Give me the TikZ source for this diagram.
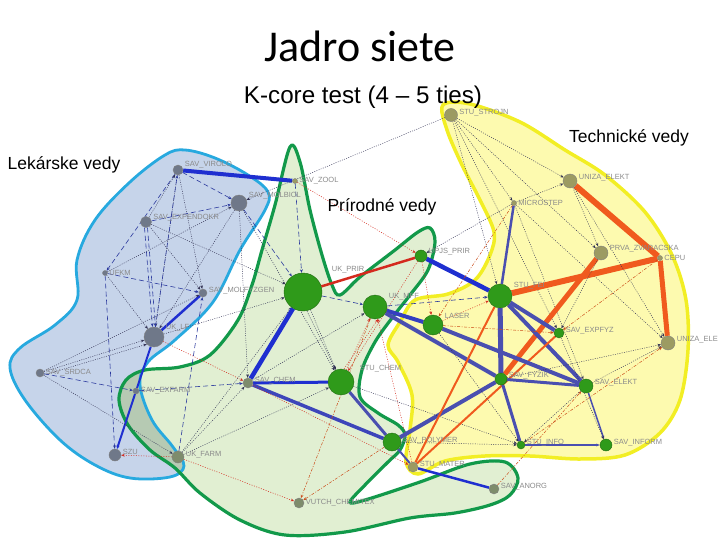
\documentclass[tikz,border=0pt]{standalone}
\usepackage{fontspec}
\setmainfont{Liberation Sans}
\newfontfamily\titlefont{Carlito}
\usetikzlibrary{arrows.meta}
\pgfdeclarelayer{hulls}
\pgfdeclarelayer{edges}
\pgfsetlayers{hulls,edges,main}
\definecolor{hullblue}{HTML}{C6D4EA}
\definecolor{strokeblue}{HTML}{27A9DF}
\definecolor{hullgreen}{HTML}{D9EBC7}
\definecolor{strokegreen}{HTML}{12994A}
\definecolor{hullyellow}{HTML}{FDFAA6}
\definecolor{strokeyellow}{HTML}{F2EE24}
\definecolor{overlapbg}{HTML}{B6CAB3}
\definecolor{ngray}{HTML}{6F7889}
\definecolor{ngreen}{HTML}{2F9A1A}
\definecolor{nolive}{HTML}{9C9B62}
\definecolor{ngg}{HTML}{7E8C6C}
\definecolor{ebl}{HTML}{2C3A9E}
\definecolor{ethick}{HTML}{1F2FD0}
\definecolor{epur}{HTML}{4A4FB0}
\definecolor{eor}{HTML}{F05A1E}
\definecolor{ered}{HTML}{D42A1E}
\definecolor{edot}{HTML}{333355}
\definecolor{lblc}{HTML}{8A8A8A}
\newcommand\bluehull{plot[smooth cycle, tension=0.6] coordinates {(185,150) (215,158) (248,175) (268,192) (265,210) (240,250) (213,302) (175,340) (148,362) (140,385) (152,420) (173,447) (184,466) (170,477) (130,478) (95,465) (60,440) (25,400) (10,368) (20,348) (55,325) (77,300) (77,260) (95,220) (130,182) (165,155)}}
\newcommand\greenhull{plot[smooth cycle, tension=0.55] coordinates {(290,147) (300,162) (310,210) (322,255) (332,285) (340,295) (360,277) (395,250) (418,232) (430,228) (435,242) (428,270) (410,295) (392,318) (375,342) (362,370) (360,397) (378,413) (398,425) (405,435) (400,450) (388,462) (365,485) (350,502) (365,500) (420,482) (470,464) (505,462) (518,478) (510,495) (490,505) (455,513) (410,518) (345,532) (285,535) (240,520) (200,493) (175,468) (150,450) (128,425) (119,400) (126,380) (145,370) (180,367) (210,355) (238,320) (252,285) (262,250) (275,205)}}
\newcommand\yellowhull{plot[smooth cycle, tension=0.55] coordinates {(443,105) (470,104) (520,122) (565,150) (605,175) (645,212) (672,255) (686,300) (688,350) (680,400) (660,433) (625,455) (580,459) (530,456) (485,456) (445,461) (418,474) (406,462) (410,430) (412,395) (398,362) (388,345) (400,322) (415,300) (448,294) (475,280) (490,255) (494,232) (480,200) (462,165) (447,130)}}
\tikzset{
  nd/.style={circle, inner sep=0pt, draw=black!50, line width=0.4pt},
  gnode/.style={nd, fill=ngray},
  grnode/.style={nd, fill=ngreen, draw=ngreen!70!black},
  olnode/.style={nd, fill=nolive},
  ggnode/.style={nd, fill=ngg},
  lbl/.style={font=\fontsize{7.5}{8}\selectfont, text=lblc, inner sep=1.5pt},
  ar/.style={-{Stealth[length=3.5pt,width=2.8pt]}},
  dsh/.style={ebl, line width=0.6pt, dash pattern=on 5pt off 3pt, ar},
  dotl/.style={edot, line width=0.45pt, dash pattern=on 1pt off 1.3pt, ar},
  rdot/.style={ered, line width=0.5pt, dash pattern=on 1pt off 1.5pt, ar},
  odd/.style={eor!85!black, line width=0.5pt, dash pattern=on 3pt off 1.5pt on 1pt off 1.5pt, ar},
  thickb/.style={ethick, line width=#1}, thickb/.default=3pt,
  pur/.style={epur, line width=#1}, pur/.default=4pt,
  orn/.style={eor, line width=#1}, orn/.default=5pt,
  rth/.style={ered, line width=2.5pt},
  bigtxt/.style={font=\fontsize{17.5}{20}\selectfont, inner sep=0pt}
}
\begin{document}
\begin{tikzpicture}[x=1pt, y=-1pt]
\useasboundingbox (0,0) rectangle (720,540);
% hulls
\begin{pgfonlayer}{hulls}
\fill[hullblue] \bluehull;
\fill[hullgreen, fill opacity=0.8] \greenhull;
\begin{scope}
  \clip \bluehull;
  \fill[overlapbg] \greenhull;
\end{scope}
\fill[hullyellow, fill opacity=0.9] \yellowhull;
\draw[strokeblue, line width=2.8pt] \bluehull;
\draw[strokegreen, line width=3.2pt] \greenhull;
\draw[strokeyellow, line width=3.5pt] \yellowhull;
\end{pgfonlayer}

% nodes
\node[gnode, minimum size=10pt, label={[lbl,yshift=5pt]right:SAV\_VIROLO}] (virol) at (178,170) {};
\node[gnode, minimum size=16pt, label={[lbl,yshift=7pt]right:SAV\_MOLBIOL}] (molbiol) at (239,203) {};
\node[gnode, minimum size=11pt, label={[lbl,yshift=4pt]right:SAV\_EXPENDOKR}] (expendokr) at (146,222) {};
\node[gnode, minimum size=5pt, label={[lbl]right:UFKM}] (ufkm) at (105,273) {};
\node[gnode, minimum size=8pt, label={[lbl,yshift=2pt]right:SAV\_MOLFYZGEN}] (molfyz) at (203,293) {};
\node[gnode, minimum size=20pt, label={[lbl,yshift=9pt]right:UK\_LF}] (uklf) at (154,337) {};
\node[gnode, minimum size=8pt, label={[lbl]right:SAV\_SRDCA}] (srdca) at (40,373) {};
\node[gnode, minimum size=6pt, label={[lbl]right:SAV\_EXFARM}] (exfarm) at (136,391) {};
\node[gnode, minimum size=12pt, label={[lbl,yshift=3pt]right:SZU}] (szu) at (115,455) {};
\node[ggnode, minimum size=12pt, label={[lbl,yshift=2pt]right:UK\_FARM}] (ukfarm) at (178,457) {};
\node[olnode, minimum size=5pt, label={[lbl]right:SAV\_ZOOL}] (zool) at (295,181) {};
\node[grnode, minimum size=38pt, label={[lbl,xshift=8pt,yshift=22pt]right:UK\_PRIR}] (ukprir) at (303,292) {};
\node[grnode, minimum size=12pt, label={[lbl,yshift=4pt]right:UPJS\_PRIR}] (upjs) at (421,256) {};
\node[grnode, minimum size=24pt, label={[lbl,yshift=10pt]right:UK\_MFF}] (ukmff) at (375,307) {};
\node[ggnode, minimum size=10pt, label={[lbl,yshift=2pt]right:SAV\_CHEM}] (savchem) at (248,383) {};
\node[grnode, minimum size=26pt, label={[lbl,xshift=4pt,yshift=13pt]right:STU\_CHEM}] (stuchem) at (341,382) {};
\node[grnode, minimum size=18pt, label={[lbl,yshift=1pt]right:SAV\_POLYMER}] (polymer) at (392,442) {};
\node[olnode, minimum size=10pt, label={[lbl,yshift=2pt]right:STU\_MATER}] (stumater) at (413,467) {};
\node[ggnode, minimum size=10pt, label={[lbl,yshift=2pt]right:SAV\_ANORG}] (anorg) at (494,489) {};
\node[ggnode, minimum size=10pt, label={[lbl]right:VUTCH\_CHEMITEX}] (vutch) at (299,503) {};
\node[olnode, minimum size=13pt, label={[lbl,yshift=2pt]right:STU\_STROJN}] (stustroj) at (451,115) {};
\node[olnode, minimum size=14pt, label={[lbl,yshift=3pt]right:UNIZA\_ELEKT}] (unizaelekt) at (570,181) {};
\node[olnode, minimum size=5pt, label={[lbl]right:MICROSTEP}] (microstep) at (514,203) {};
\node[olnode, minimum size=14pt, label={[lbl,yshift=4pt]right:PRVA\_ZVARACSKA}] (prva) at (601,253) {};
\node[olnode, minimum size=5pt, label={[lbl]right:CEPU}] (cepu) at (660,258) {};
\node[grnode, minimum size=24pt, label={[lbl,yshift=10pt]right:STU\_FEI}] (stufei) at (500,296) {};
\node[grnode, minimum size=20pt, label={[lbl,yshift=9pt]right:LASER}] (laser) at (433,325) {};
\node[grnode, minimum size=10pt, label={[lbl,yshift=2pt]right:SAV\_EXPFYZ}] (expfyz) at (559,333) {};
\node[olnode, minimum size=14pt, label={[lbl,yshift=3pt]right:UNIZA\_ELE}] (unizaele) at (668,343) {};
\node[grnode, minimum size=12pt, label={[lbl,yshift=3pt]right:SAV\_FYZIK}] (savfyzik) at (501,379) {};
\node[grnode, minimum size=14pt, label={[lbl,yshift=3pt]right:SAV\_ELEKT}] (savelekt) at (586,386) {};
\node[grnode, minimum size=8pt, label={[lbl,yshift=2pt]right:STU\_INFO}] (stuinfo) at (521,445) {};
\node[grnode, minimum size=12pt, label={[lbl,yshift=2pt]right:SAV\_INFORM}] (savinform) at (606,445) {};

\begin{pgfonlayer}{edges}
% Lekarske
\draw[dsh] (virol) -- (ufkm);
\draw[dsh] (virol) -- (molbiol);
\draw[dotl] (virol) -- (molfyz);
\draw[dotl] (virol) -- (uklf);
\draw[dotl] (expendokr) -- (virol);
\draw[dsh] (uklf) -- (virol);
\draw[dsh] (expendokr) -- (molbiol);
\draw[dsh] ([xshift=-1.5pt]expendokr.south) -- ([xshift=-1.5pt]uklf.north);
\draw[dsh] ([xshift=1.5pt]expendokr.south) -- ([xshift=1.5pt]uklf.north);
\draw[dotl] (expendokr) -- (ukprir);
\draw[dotl] (expendokr) -- (molfyz);
\draw[dsh] (ufkm) -- (molfyz);
\draw[dsh] (ufkm) -- (szu);
\draw[dotl] (ufkm) -- (molbiol);
\draw[dotl] (ufkm) -- (uklf);
\draw[dotl] (molbiol) -- (uklf);
\draw[dsh] (molbiol) -- (ukprir);
\draw[dotl] (molbiol) -- (stuchem);
\draw[dotl] (molbiol) -- (savchem);
\draw[thickb=2.5pt] (uklf) -- (molfyz);
\draw[thickb=2pt] (uklf) -- (exfarm);
\draw[thickb=2pt, ar] (exfarm) -- (szu);
\draw[dotl] (srdca) -- (uklf);
\draw[dotl] ([yshift=-2pt]srdca.east) -- (uklf.south west);
\draw[dotl] (srdca) -- (molfyz);
\draw[dsh] (srdca) -- (exfarm);
\draw[dotl] (srdca) -- (ukfarm);
\draw[dsh] (exfarm) -- (savchem);
\draw[dotl] (ukfarm) -- (savchem);
\draw[dotl] (ukfarm) -- (ukprir);
\draw[dsh] (ukfarm) -- (molfyz);
\draw[dotl] (ukfarm) -- (stuchem);
\draw[rdot] (ukfarm) -- (szu);
\draw[rdot] (ukfarm) -- (vutch);
\draw[rdot] (uklf) -- (savchem);
\draw[dotl] (uklf) -- (ukprir);
\draw[thickb=4pt] (virol) -- (zool);

% Prirodne
\draw[dsh] (zool) -- (ukprir);
\draw[rdot] (zool) -- (upjs);
\draw[rth] (ukprir) -- (upjs);
\draw[thickb=4.5pt] (ukprir) -- (savchem);
\draw[dsh] (ukprir) -- (ukmff);
\draw[dotl] (ukprir) -- (stuchem);
\draw[dotl] ([xshift=4pt]ukprir.south) -- ([xshift=-6pt]stuchem.north);
\draw[thickb=3pt] (savchem) -- (stuchem);
\draw[pur=3.5pt, epur!70!ethick] (savchem) -- (polymer);
\draw[rdot] (savchem) -- (stumater);
\draw[dotl] (savchem) -- (ukmff);
\draw[rdot] (stuchem) -- (ukmff);
\draw[rdot] ([xshift=3pt]stuchem.north) -- ([xshift=3pt]ukmff.south);
\draw[pur=3pt] (stuchem) -- (polymer);
\draw[rdot] (upjs) -- (stuchem);
\draw[thickb=4.5pt] (upjs) -- (stufei);
\draw[rdot] (upjs) -- (laser);
\draw[pur=4pt, epur!50!ethick] (ukmff) -- (laser);
\draw[pur=4pt] (ukmff) -- (savfyzik);
\draw[dsh] (ukmff) -- (stufei);
\draw[odd] (ukmff) -- (vutch);
\draw[odd] (polymer) -- (vutch);
\draw[pur=2pt] (polymer) -- (stumater);
\draw[thickb=2.5pt] (stumater) -- (anorg);
\draw[odd] (anorg) -- (savelekt);
\draw[rdot] (stumater) -- (ukmff);
\draw[dotl] (polymer) -- (stuinfo);
\draw[pur=4pt] (savfyzik) -- (polymer);
\draw[dotl] (stuchem) -- (stuinfo);

% Technicke
\draw[dotl] (stustroj) -- (microstep);
\draw[dotl] (stustroj) -- (unizaelekt);
\draw[dotl] (stustroj) -- (stufei);
\draw[dotl] (stustroj) -- (prva);
\draw[dotl] (stustroj) -- (expfyz);
\draw[dotl] (stustroj) -- (molbiol);
\draw[pur=2.5pt] (microstep) -- (stufei);
\draw[dotl] (microstep) -- (unizaelekt);
\draw[dotl] (microstep) -- (savelekt);
\draw[dotl] (microstep) -- (unizaele);
\draw[odd] (microstep) -- (laser);
\draw[dotl] (microstep) -- (upjs);
\draw[orn=6pt] (unizaelekt) -- (cepu);
\draw[orn=5pt] (cepu) -- (unizaele);
\draw[orn=6pt] (stufei) -- (cepu);
\draw[orn=5pt] (savfyzik) -- (prva);
\draw[dotl] (unizaelekt) -- (prva);
\draw[dotl] (unizaelekt) -- (unizaele);
\draw[dotl] (prva) -- (expfyz);
\draw[odd] (cepu) -- (expfyz);
\draw[pur=5pt] (stufei) -- (savfyzik);
\draw[pur=4pt] (stufei) -- (expfyz);
\draw[pur=4pt] (stufei) -- (savelekt);
\draw[orn=2pt] (stufei) -- (stumater);
\draw[orn=2pt] (expfyz) -- (stumater);
\draw[pur=4pt] (laser) -- (savelekt);
\draw[pur=3pt] (savfyzik) -- (savelekt);
\draw[pur=3pt] (savfyzik) -- (stuinfo);
\draw[pur=1.5pt, ar] (savelekt) -- (savinform);
\draw[pur=2pt, ar] (stuinfo) -- (savinform);
\draw[dotl] (savelekt) -- (unizaele);
\draw[odd] (stuinfo) -- (unizaele);
\draw[dotl] (savfyzik) -- (unizaele);
\draw[dotl] (expfyz) -- (savinform);
\draw[odd] (laser) -- (expfyz);
\draw[rdot] (laser) -- (stufei);
\draw[dotl] (laser) -- (stuinfo);
\draw[dotl] (savelekt) -- (stuinfo);
\end{pgfonlayer}

% titles
\node[font=\titlefont\fontsize{44}{48}\selectfont, inner sep=0pt] (title) at (360,46) {Jadro siete};
\node[font=\fontsize{24.2}{27}\selectfont, inner sep=0pt] (sub) at (363,97) {K-core test (4 – 5 ties)};
\node[bigtxt] (tech) at (629,138) {Technické vedy};
\node[bigtxt] (lek) at (64,165) {Lekárske vedy};
\node[bigtxt] (prir) at (382,207) {Prírodné vedy};
\end{tikzpicture}
\end{document}
